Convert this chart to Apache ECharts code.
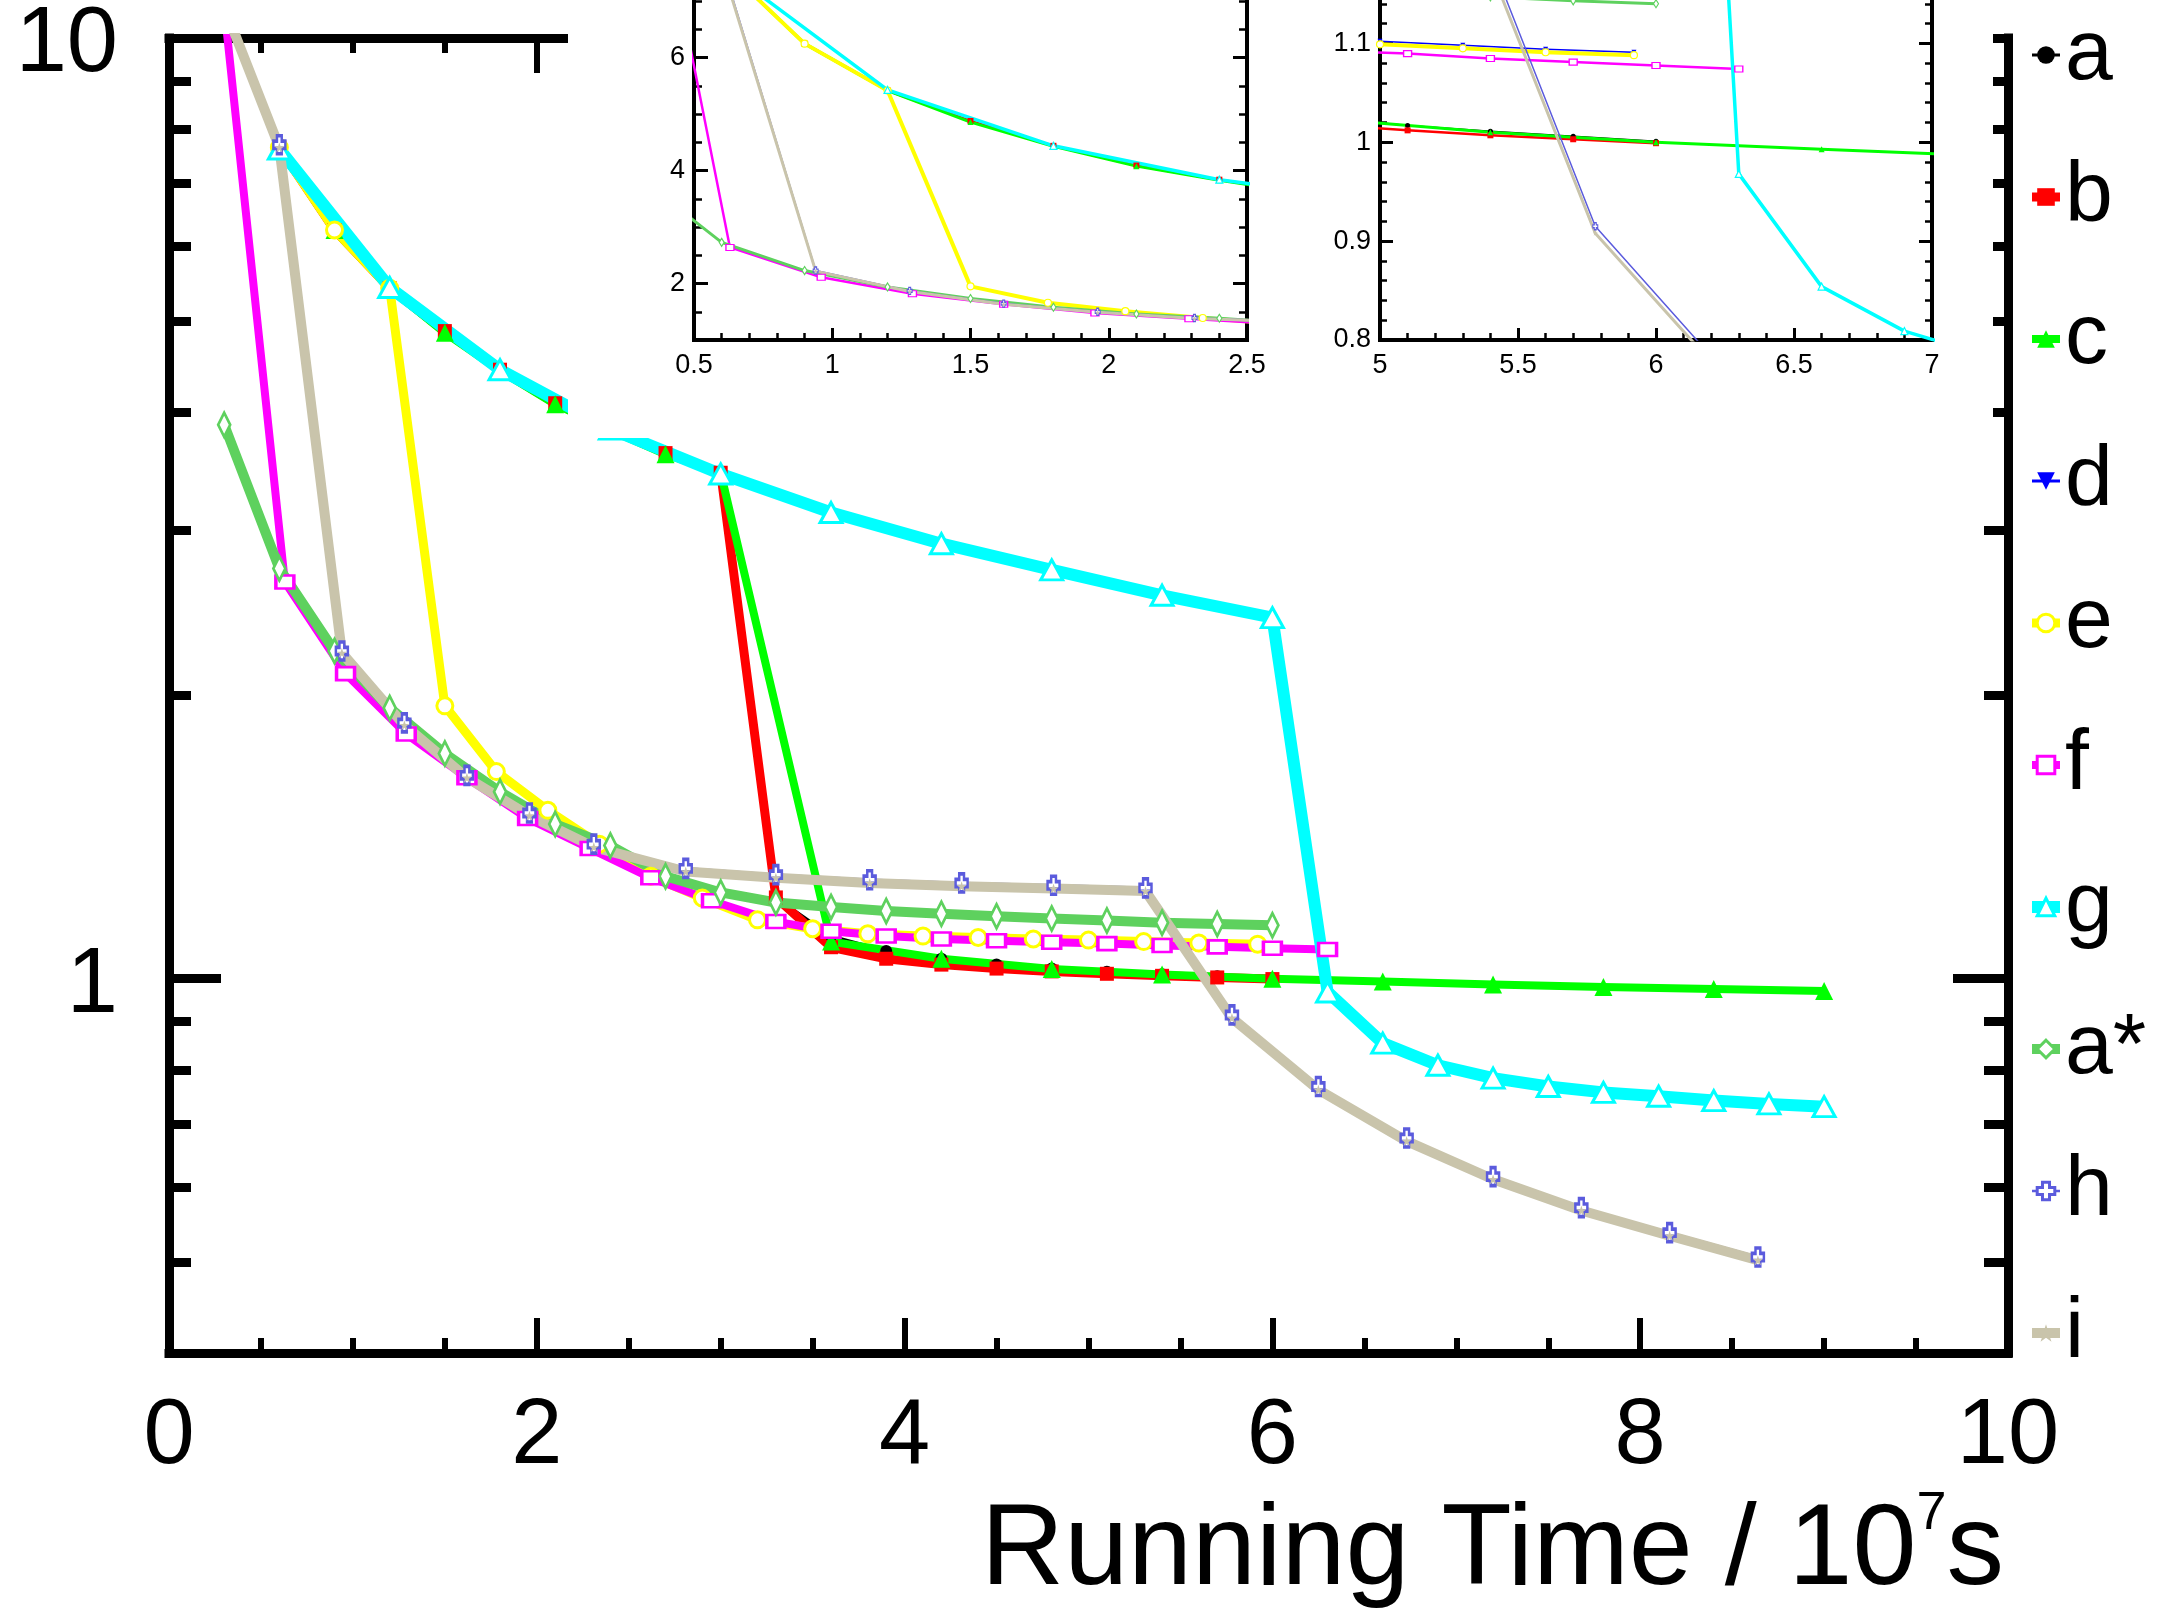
<!DOCTYPE html>
<html><head><meta charset="utf-8">
<script src="https://cdn.jsdelivr.net/npm/echarts@6/dist/echarts.min.js"></script>
<style>html,body{margin:0;padding:0;background:#fff}#c{width:2173px;height:1617px}</style>
</head><body><div id="c"></div>
<script>
// ---------------- data ----------------
const seriesNames = ['a','b','c','d','e','f','g','a*','h','i'];

const aX = [0.6,0.9,1.2,1.5,1.8,2.1,2.4,2.7,3.0,3.3,3.6,3.9,4.2,4.5,4.8,5.1,5.4,5.7,6.0];
const aY = [7.65,6.25,5.42,4.87,4.43,4.08,3.83,3.61,3.45,1.22,1.11,1.07,1.05,1.035,1.025,1.017,1.011,1.006,1.001];

const bX = [0.6,0.9,1.2,1.5,1.8,2.1,2.4,2.7,3.0,3.3,3.6,3.9,4.2,4.5,4.8,5.1,5.4,5.7,6.0];
const bY = [7.65,6.25,5.42,4.88,4.44,4.09,3.84,3.62,3.45,1.22,1.08,1.05,1.035,1.025,1.018,1.012,1.007,1.003,0.999];

const cX = [0.6,0.9,1.2,1.5,1.8,2.1,2.4,2.7,3.0,3.6,4.2,4.8,5.4,6.0,6.6,7.2,7.8,8.4,9.0];
const cY = [7.65,6.25,5.42,4.86,4.43,4.08,3.83,3.61,3.45,1.095,1.05,1.024,1.010,1.0,0.993,0.986,0.980,0.975,0.970];

const dX = [0.6,0.9,1.2,1.5,1.78,2.06,2.34,2.62,2.9,3.2,3.5,3.8,4.1,4.4,4.7,5.0,5.3,5.6,5.92];
const dY = [7.65,6.25,5.42,1.95,1.66,1.51,1.39,1.29,1.22,1.158,1.133,1.119,1.113,1.108,1.105,1.102,1.098,1.094,1.091];

const eX = [0.6,0.9,1.2,1.5,1.78,2.06,2.34,2.62,2.9,3.2,3.5,3.8,4.1,4.4,4.7,5.0,5.3,5.6,5.92];
const eY = [7.65,6.25,5.42,1.95,1.66,1.51,1.39,1.285,1.218,1.155,1.13,1.116,1.11,1.106,1.102,1.099,1.095,1.091,1.088];

const fX = [0.3,0.63,0.96,1.29,1.62,1.95,2.29,2.62,2.95,3.3,3.6,3.9,4.2,4.5,4.8,5.1,5.4,5.7,6.0,6.3];
const fY = [10.8,2.64,2.11,1.82,1.635,1.48,1.375,1.28,1.21,1.15,1.123,1.11,1.102,1.097,1.093,1.0896,1.0846,1.081,1.0775,1.074];

const gX = [0.6,1.2,1.8,2.4,3.0,3.6,4.2,4.8,5.4,6.0,6.3,6.6,6.9,7.2,7.5,7.8,8.1,8.4,8.7,9.0];
const gY = [7.62,5.43,4.44,3.84,3.44,3.13,2.90,2.72,2.556,2.42,0.968,0.854,0.809,0.784,0.768,0.757,0.750,0.742,0.736,0.731];

const aStarX = [0.3,0.6,0.9,1.2,1.5,1.8,2.1,2.4,2.7,3.0,3.3,3.6,3.9,4.2,4.5,4.8,5.1,5.4,5.7,6.0];
const aStarY = [3.88,2.73,2.23,1.94,1.735,1.58,1.46,1.385,1.285,1.235,1.205,1.192,1.180,1.172,1.165,1.159,1.153,1.147,1.143,1.140];

const hX = [0.3,0.6,0.94,1.28,1.62,1.96,2.31,2.81,3.30,3.81,4.31,4.81,5.31,5.78,6.25,6.73,7.2,7.68,8.16,8.64];
const hY = [10.9,7.7,2.23,1.87,1.645,1.50,1.39,1.31,1.29,1.274,1.264,1.257,1.249,0.915,0.768,0.677,0.616,0.571,0.537,0.506];

const iX = [0.3,0.6,0.94,1.28,1.62,1.96,2.31,2.81,3.30,3.81,4.31,4.81,5.31,5.78,6.25,6.73,7.2,7.68,8.16,8.64];
const iY = [10.8,7.65,2.22,1.86,1.635,1.49,1.38,1.30,1.28,1.264,1.254,1.247,1.239,0.908,0.762,0.672,0.612,0.567,0.533,0.502];

// tick values / labels
const mainXMajor = [0,2,4,6,8,10];
const mainXMinor = [0.5,1,1.5,2.5,3,3.5,4.5,5,5.5,6.5,7,7.5,8.5,9,9.5];
const mainYMajor = [1,10];
const mainYMinor = [0.4,0.5,0.6,0.7,0.8,0.9,2,3,4,5,6,7,8,9];
const in1XMajor = [0.5,1,1.5,2,2.5];
const in1XMinor = [0.6,0.7,0.8,0.9,1.1,1.2,1.3,1.4,1.6,1.7,1.8,1.9,2.1,2.2,2.3,2.4];
const in1YMajor = [2,4,6];
const in1YMinor = [1.5,2.5,3,3.5,4.5,5,5.5,6.5,7];
const in2XMajor = [5,5.5,6,6.5,7];
const in2XMinor = [5.1,5.2,5.3,5.4,5.6,5.7,5.8,5.9,6.1,6.2,6.3,6.4,6.6,6.7,6.8,6.9];
const in2YMajor = [0.8,0.9,1,1.1];
const in2YMinor = [0.82,0.84,0.86,0.88,0.92,0.94,0.96,0.98,1.02,1.04,1.06,1.08,1.12,1.14];

// ---------------- styles ----------------
const FONT = "'Liberation Sans', Arial, Helvetica, sans-serif";
const plusPath = 'path://M3,0 L7,0 L7,3 L10,3 L10,7 L7,7 L7,10 L3,10 L3,7 L0,7 L0,3 L3,3 Z';
const starPath = 'path://M5,0 L6.2,3.6 L10,3.6 L6.9,5.9 L8.1,9.5 L5,7.3 L1.9,9.5 L3.1,5.9 L0,3.6 L3.8,3.6 Z';
const sty = {
  'a':  {color:'#000000', symbol:'circle',   size:12,      w:3,  filled:true,  iw:1.5, is:5},
  'b':  {color:'#ff0000', symbol:'rect',     size:14,      w:9,  filled:true,  iw:2.5, is:6},
  'c':  {color:'#00ff00', symbol:'triangle', size:18,      w:8,  filled:true,  iw:3,   is:6},
  'd':  {color:'#0000ff', symbol:'triangle', size:11,      w:3,  filled:true,  iw:1.5, is:5, rot:180},
  'e':  {color:'#ffff00', symbol:'circle',   size:16,      w:9,  filled:false, iw:4,   is:7},
  'f':  {color:'#ff00ff', symbol:'rect',     size:[18,13], w:8,  filled:false, iw:2.5, is:[8,6]},
  'g':  {color:'#00ffff', symbol:'triangle', size:[22,20], w:12, filled:false, iw:3.5, is:7},
  'a*': {color:'#5ed15e', symbol:'diamond',  size:[12,24], w:10, filled:false, iw:3,   is:[5,8]},
  'h':  {color:'#5b5bdd', symbol:plusPath,   size:[12,18], w:2.5,filled:false, iw:1.5, is:[5,7]},
  'i':  {color:'#c9c4ab', symbol:starPath,   size:10,      w:10, filled:true,  iw:3,   is:5}
};
const dataByName = {
  'a':[aX,aY],'b':[bX,bY],'c':[cX,cY],'d':[dX,dY],'e':[eX,eY],
  'f':[fX,fY],'g':[gX,gY],'a*':[aStarX,aStarY],'h':[hX,hY],'i':[iX,iY]
};
function pts(xs, ys){ return xs.map((x,k)=>[x, ys[k]]); }

function mkSeries(name, xi, yi, inset, z){
  const s = sty[name];
  const [xs, ys] = dataByName[name];
  return {
    type:'line', name, xAxisIndex:xi, yAxisIndex:yi, z,
    data: pts(xs, ys),
    symbol: s.symbol, symbolSize: inset ? s.is : s.size, symbolRotate: s.rot || 0,
    showSymbol:true, showAllSymbol:true, clip:true, silent:true,
    lineStyle:{color:s.color, width: inset ? s.iw : s.w, join:'round'},
    itemStyle: s.filled ? {color:s.color, borderWidth:0}
                        : {color:'#ffffff', borderColor:s.color, borderWidth: inset ? 1.2 : 3},
    emphasis:{disabled:true}, animation:false
  };
}

// ---------------- axes helpers ----------------
function tickAxis(o){
  return Object.assign({
    type:'value', splitLine:{show:false}, axisLabel:{show:false},
    axisLine:{show:false, onZero:false}, nameMoveOverlap:false
  }, o);
}
const mainLine = {show:true, onZero:false, lineStyle:{color:'#000', width:9, cap:'square'}};
const insetLine = {show:true, onZero:false, lineStyle:{color:'#000', width:4, cap:'square'}};
const insetLabel = {fontSize:27, lineHeight:27, color:'#000', fontFamily:FONT};

const xAxis = [
  // 0 main bottom major
  tickAxis({gridIndex:0, position:'bottom', min:0, max:10, axisLine:mainLine,
    axisTick:{show:true, inside:true, length:35, lineStyle:{color:'#000', width:6}, customValues:mainXMajor},
    axisLabel:{show:true, customValues:mainXMajor, fontSize:92, lineHeight:92, margin:39, color:'#000', fontFamily:FONT},
    name:'Running Time / 10{sup|7}s', nameLocation:'end', nameGap:-4,
    nameTextStyle:{fontSize:115, lineHeight:130, color:'#000', fontFamily:FONT, align:'right', verticalAlign:'middle',
      padding:[398,0,0,0], rich:{sup:{fontSize:54, lineHeight:44, verticalAlign:'top', color:'#000', fontFamily:FONT}}}
  }),
  // 1 main bottom minor
  tickAxis({gridIndex:0, position:'bottom', min:0, max:10,
    axisTick:{show:true, inside:true, length:15, lineStyle:{color:'#000', width:6}, customValues:mainXMinor}}),
  // 2 main top major
  tickAxis({gridIndex:0, position:'top', min:0, max:10, axisLine:mainLine,
    axisTick:{show:true, inside:true, length:35, lineStyle:{color:'#000', width:6}, customValues:mainXMajor}}),
  // 3 main top minor
  tickAxis({gridIndex:0, position:'top', min:0, max:10,
    axisTick:{show:true, inside:true, length:15, lineStyle:{color:'#000', width:6}, customValues:mainXMinor}}),
  // 4 inset1 major
  tickAxis({gridIndex:1, position:'bottom', min:0.5, max:2.5, z:20, axisLine:insetLine,
    axisTick:{show:true, inside:true, length:12, lineStyle:{color:'#000', width:3}, customValues:in1XMajor},
    axisLabel:Object.assign({show:true, customValues:in1XMajor, margin:12}, insetLabel)}),
  // 5 inset1 minor
  tickAxis({gridIndex:1, position:'bottom', min:0.5, max:2.5, z:20,
    axisTick:{show:true, inside:true, length:7, lineStyle:{color:'#000', width:2.5}, customValues:in1XMinor}}),
  // 6 inset2 major
  tickAxis({gridIndex:2, position:'bottom', min:5, max:7, z:20, axisLine:insetLine,
    axisTick:{show:true, inside:true, length:12, lineStyle:{color:'#000', width:3}, customValues:in2XMajor},
    axisLabel:Object.assign({show:true, customValues:in2XMajor, margin:12}, insetLabel)}),
  // 7 inset2 minor
  tickAxis({gridIndex:2, position:'bottom', min:5, max:7, z:20,
    axisTick:{show:true, inside:true, length:7, lineStyle:{color:'#000', width:2.5}, customValues:in2XMinor}})
];

function logAxis(o){ return tickAxis(Object.assign({type:'log', logBase:10, min:0.4, max:10}, o)); }
const yAxis = [
  // 0 main left major
  logAxis({gridIndex:0, position:'left', axisLine:mainLine,
    axisTick:{show:true, inside:true, length:52, lineStyle:{color:'#000', width:9}, customValues:mainYMajor},
    axisLabel:{show:true, customValues:mainYMajor, fontSize:92, lineHeight:16, verticalAlign:'top', margin:51, color:'#000', fontFamily:FONT}}),
  // 1 main left minor
  logAxis({gridIndex:0, position:'left',
    axisTick:{show:true, inside:true, length:22, lineStyle:{color:'#000', width:9}, customValues:mainYMinor}}),
  // 2 main right major
  logAxis({gridIndex:0, position:'right', axisLine:mainLine,
    axisTick:{show:true, inside:true, length:55, lineStyle:{color:'#000', width:9}, customValues:mainYMajor}}),
  // 3 main right minor
  logAxis({gridIndex:0, position:'right',
    axisTick:{show:true, inside:true, length:24, lineStyle:{color:'#000', width:9}, customValues:mainYMinor}}),
  // 4 inset1 left major
  tickAxis({gridIndex:1, position:'left', min:1, max:7.2, z:20, axisLine:insetLine,
    axisTick:{show:true, inside:true, length:14, lineStyle:{color:'#000', width:3}, customValues:in1YMajor},
    axisLabel:Object.assign({show:true, customValues:in1YMajor, margin:9}, insetLabel)}),
  // 5 inset1 left minor
  tickAxis({gridIndex:1, position:'left', min:1, max:7.2, z:20,
    axisTick:{show:true, inside:true, length:8, lineStyle:{color:'#000', width:2.5}, customValues:in1YMinor}}),
  // 6 inset1 right major
  tickAxis({gridIndex:1, position:'right', min:1, max:7.2, z:20, axisLine:insetLine,
    axisTick:{show:true, inside:true, length:14, lineStyle:{color:'#000', width:3}, customValues:in1YMajor}}),
  // 7 inset1 right minor
  tickAxis({gridIndex:1, position:'right', min:1, max:7.2, z:20,
    axisTick:{show:true, inside:true, length:8, lineStyle:{color:'#000', width:2.5}, customValues:in1YMinor}}),
  // 8 inset2 left major
  tickAxis({gridIndex:2, position:'left', min:0.8, max:1.16, z:20, axisLine:insetLine,
    axisTick:{show:true, inside:true, length:13, lineStyle:{color:'#000', width:3}, customValues:in2YMajor},
    axisLabel:Object.assign({show:true, customValues:in2YMajor, margin:9}, insetLabel)}),
  // 9 inset2 left minor
  tickAxis({gridIndex:2, position:'left', min:0.8, max:1.16, z:20,
    axisTick:{show:true, inside:true, length:7, lineStyle:{color:'#000', width:2.5}, customValues:in2YMinor}}),
  // 10 inset2 right major
  tickAxis({gridIndex:2, position:'right', min:0.8, max:1.16, z:20, axisLine:insetLine,
    axisTick:{show:true, inside:true, length:13, lineStyle:{color:'#000', width:3}, customValues:in2YMajor}}),
  // 11 inset2 right minor
  tickAxis({gridIndex:2, position:'right', min:0.8, max:1.16, z:20,
    axisTick:{show:true, inside:true, length:7, lineStyle:{color:'#000', width:2.5}, customValues:in2YMinor}})
];

const series = [];
seriesNames.forEach(n => series.push(mkSeries(n, 0, 0, false, 2)));
seriesNames.forEach(n => series.push(mkSeries(n, 4, 4, true, 20)));
seriesNames.forEach(n => series.push(mkSeries(n, 6, 8, true, 20)));

const option = {
  animation:false,
  backgroundColor:'#ffffff',
  textStyle:{fontFamily:FONT},
  grid:[
    {left:169, top:38, width:1839, height:1315, containLabel:false, outerBoundsMode:'none'},
    {left:694, top:-10, width:553, height:350, containLabel:false, outerBoundsMode:'none'},
    {left:1380, top:-16, width:552, height:356, containLabel:false, outerBoundsMode:'none'}
  ],
  xAxis, yAxis, series,
  graphic:[{type:'rect', silent:true, z:10, shape:{x:568, y:0, width:1425, height:438}, style:{fill:'#ffffff'}}],
  legend:{
    data:seriesNames, orient:'vertical', left:2026, top:12, padding:0,
    itemWidth:28, itemHeight:22, itemGap:56, selectedMode:false,
    lineStyle:{width:'inherit'},
    itemStyle:{borderWidth:'inherit'},
    textStyle:{fontSize:86, lineHeight:86, color:'#000', fontFamily:FONT}
  }
};
const chart = echarts.init(document.getElementById('c'), null, {renderer:'canvas'});
chart.setOption(option);
</script></body></html>
